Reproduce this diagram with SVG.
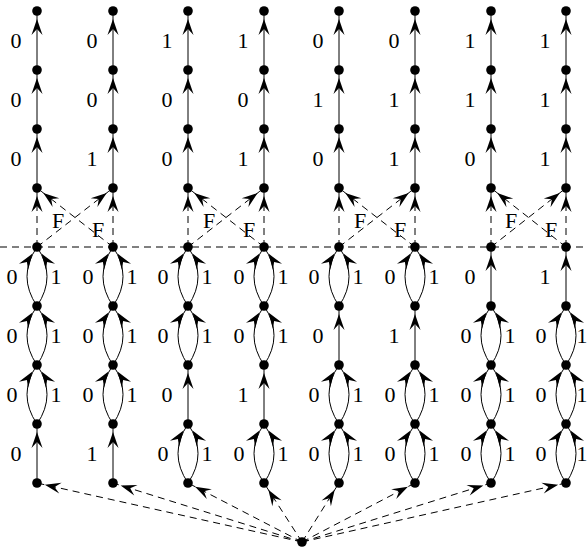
<svg xmlns="http://www.w3.org/2000/svg" width="588" height="552" viewBox="0 0 588 552">
<style>
.e{stroke:#000;stroke-width:1;fill:none;marker-end:url(#ah)}
.d{stroke-dasharray:7 5}
.h{stroke:#000;stroke-width:1;fill:none;stroke-dasharray:7 5}
.n{fill:#000}
text{font-family:"Liberation Serif","Times New Roman",serif;font-size:22px;text-anchor:middle;fill:#000}
</style>
<defs>
<marker id="ah" markerUnits="userSpaceOnUse" orient="auto" refX="0" refY="0" markerWidth="40" markerHeight="20" viewBox="-30 -10 40 20" overflow="visible">
<path d="M-8,0 L-24,-5.5 L-18,0 L-24,5.5 Z" fill="#000"/>
</marker>
</defs>
<rect width="588" height="552" fill="#fff"/>
<g id="connectors">
<path class="h" d="M0,247 H588"/>
<path class="e" d="M37,70V11"/><path class="e" d="M37,129V70"/><path class="e" d="M37,188V129"/>
<path class="e" d="M113,70V11"/><path class="e" d="M113,129V70"/><path class="e" d="M113,188V129"/>
<path class="e" d="M188,70V11"/><path class="e" d="M188,129V70"/><path class="e" d="M188,188V129"/>
<path class="e" d="M264,70V11"/><path class="e" d="M264,129V70"/><path class="e" d="M264,188V129"/>
<path class="e" d="M339,70V11"/><path class="e" d="M339,129V70"/><path class="e" d="M339,188V129"/>
<path class="e" d="M415,70V11"/><path class="e" d="M415,129V70"/><path class="e" d="M415,188V129"/>
<path class="e" d="M491,70V11"/><path class="e" d="M491,129V70"/><path class="e" d="M491,188V129"/>
<path class="e" d="M566,70V11"/><path class="e" d="M566,129V70"/><path class="e" d="M566,188V129"/>
<path class="e d" d="M37,247V188"/><path class="e d" d="M113,247V188"/>
<path class="e d" d="M188,247V188"/><path class="e d" d="M264,247V188"/>
<path class="e d" d="M339,247V188"/><path class="e d" d="M415,247V188"/>
<path class="e d" d="M491,247V188"/><path class="e d" d="M566,247V188"/>
<path class="e d" d="M37,247L113,188"/><path class="e d" d="M113,247L37,188"/>
<path class="e d" d="M188,247L264,188"/><path class="e d" d="M264,247L188,188"/>
<path class="e d" d="M339,247L415,188"/><path class="e d" d="M415,247L339,188"/>
<path class="e d" d="M491,247L566,188"/><path class="e d" d="M566,247L491,188"/>
<path class="e" d="M37,483V424"/>
<path class="e" d="M37,424Q17,394.5 37,365"/><path class="e" d="M37,424Q57,394.5 37,365"/>
<path class="e" d="M37,365Q17,335.5 37,306"/><path class="e" d="M37,365Q57,335.5 37,306"/>
<path class="e" d="M37,306Q17,276.5 37,247"/><path class="e" d="M37,306Q57,276.5 37,247"/>
<path class="e" d="M113,483V424"/>
<path class="e" d="M113,424Q93,394.5 113,365"/><path class="e" d="M113,424Q133,394.5 113,365"/>
<path class="e" d="M113,365Q93,335.5 113,306"/><path class="e" d="M113,365Q133,335.5 113,306"/>
<path class="e" d="M113,306Q93,276.5 113,247"/><path class="e" d="M113,306Q133,276.5 113,247"/>
<path class="e" d="M188,483Q168,453.5 188,424"/><path class="e" d="M188,483Q208,453.5 188,424"/>
<path class="e" d="M188,424V365"/>
<path class="e" d="M188,365Q168,335.5 188,306"/><path class="e" d="M188,365Q208,335.5 188,306"/>
<path class="e" d="M188,306Q168,276.5 188,247"/><path class="e" d="M188,306Q208,276.5 188,247"/>
<path class="e" d="M264,483Q244,453.5 264,424"/><path class="e" d="M264,483Q284,453.5 264,424"/>
<path class="e" d="M264,424V365"/>
<path class="e" d="M264,365Q244,335.5 264,306"/><path class="e" d="M264,365Q284,335.5 264,306"/>
<path class="e" d="M264,306Q244,276.5 264,247"/><path class="e" d="M264,306Q284,276.5 264,247"/>
<path class="e" d="M339,483Q319,453.5 339,424"/><path class="e" d="M339,483Q359,453.5 339,424"/>
<path class="e" d="M339,424Q319,394.5 339,365"/><path class="e" d="M339,424Q359,394.5 339,365"/>
<path class="e" d="M339,365V306"/>
<path class="e" d="M339,306Q319,276.5 339,247"/><path class="e" d="M339,306Q359,276.5 339,247"/>
<path class="e" d="M415,483Q395,453.5 415,424"/><path class="e" d="M415,483Q435,453.5 415,424"/>
<path class="e" d="M415,424Q395,394.5 415,365"/><path class="e" d="M415,424Q435,394.5 415,365"/>
<path class="e" d="M415,365V306"/>
<path class="e" d="M415,306Q395,276.5 415,247"/><path class="e" d="M415,306Q435,276.5 415,247"/>
<path class="e" d="M491,483Q471,453.5 491,424"/><path class="e" d="M491,483Q511,453.5 491,424"/>
<path class="e" d="M491,424Q471,394.5 491,365"/><path class="e" d="M491,424Q511,394.5 491,365"/>
<path class="e" d="M491,365Q471,335.5 491,306"/><path class="e" d="M491,365Q511,335.5 491,306"/>
<path class="e" d="M491,306V247"/>
<path class="e" d="M566,483Q546,453.5 566,424"/><path class="e" d="M566,483Q586,453.5 566,424"/>
<path class="e" d="M566,424Q546,394.5 566,365"/><path class="e" d="M566,424Q586,394.5 566,365"/>
<path class="e" d="M566,365Q546,335.5 566,306"/><path class="e" d="M566,365Q586,335.5 566,306"/>
<path class="e" d="M566,306V247"/>
<path class="e d" d="M302,542L37,483"/><path class="e d" d="M302,542L113,483"/>
<path class="e d" d="M302,542L188,483"/><path class="e d" d="M302,542L264,483"/>
<path class="e d" d="M302,542L339,483"/><path class="e d" d="M302,542L415,483"/>
<path class="e d" d="M302,542L491,483"/><path class="e d" d="M302,542L566,483"/>
</g>
<g id="labels">
<text x="16" y="48">0</text><text x="16" y="107">0</text><text x="16" y="166">0</text>
<text x="92" y="48">0</text><text x="92" y="107">0</text><text x="92" y="166">1</text>
<text x="167" y="48">1</text><text x="167" y="107">0</text><text x="167" y="166">0</text>
<text x="243" y="48">1</text><text x="243" y="107">0</text><text x="243" y="166">1</text>
<text x="318" y="48">0</text><text x="318" y="107">1</text><text x="318" y="166">0</text>
<text x="394" y="48">0</text><text x="394" y="107">1</text><text x="394" y="166">1</text>
<text x="470" y="48">1</text><text x="470" y="107">1</text><text x="470" y="166">0</text>
<text x="545" y="48">1</text><text x="545" y="107">1</text><text x="545" y="166">1</text>
<text x="58" y="228">F</text><text x="98" y="237">F</text>
<text x="209" y="228">F</text><text x="249" y="237">F</text>
<text x="360" y="228">F</text><text x="400" y="237">F</text>
<text x="511" y="228">F</text><text x="551" y="237">F</text>
<text x="16" y="461">0</text>
<text x="12" y="402">0</text><text x="56" y="402">1</text>
<text x="12" y="343">0</text><text x="56" y="343">1</text>
<text x="12" y="284">0</text><text x="56" y="284">1</text>
<text x="92" y="461">1</text>
<text x="88" y="402">0</text><text x="132" y="402">1</text>
<text x="88" y="343">0</text><text x="132" y="343">1</text>
<text x="88" y="284">0</text><text x="132" y="284">1</text>
<text x="163" y="461">0</text><text x="207" y="461">1</text>
<text x="167" y="402">0</text>
<text x="163" y="343">0</text><text x="207" y="343">1</text>
<text x="163" y="284">0</text><text x="207" y="284">1</text>
<text x="239" y="461">0</text><text x="283" y="461">1</text>
<text x="243" y="402">1</text>
<text x="239" y="343">0</text><text x="283" y="343">1</text>
<text x="239" y="284">0</text><text x="283" y="284">1</text>
<text x="314" y="461">0</text><text x="358" y="461">1</text>
<text x="314" y="402">0</text><text x="358" y="402">1</text>
<text x="318" y="343">0</text>
<text x="314" y="284">0</text><text x="358" y="284">1</text>
<text x="390" y="461">0</text><text x="434" y="461">1</text>
<text x="390" y="402">0</text><text x="434" y="402">1</text>
<text x="394" y="343">1</text>
<text x="390" y="284">0</text><text x="434" y="284">1</text>
<text x="466" y="461">0</text><text x="510" y="461">1</text>
<text x="466" y="402">0</text><text x="510" y="402">1</text>
<text x="466" y="343">0</text><text x="510" y="343">1</text>
<text x="470" y="284">0</text>
<text x="541" y="461">0</text><text x="582" y="461">1</text>
<text x="541" y="402">0</text><text x="582" y="402">1</text>
<text x="541" y="343">0</text><text x="582" y="343">1</text>
<text x="545" y="284">1</text>
</g>
<g id="nodes">
<g id="c1r0"><circle class="n" cx="37" cy="11" r="4.8"/></g><g id="c1r1"><circle class="n" cx="37" cy="70" r="4.8"/></g><g id="c1r2"><circle class="n" cx="37" cy="129" r="4.8"/></g><g id="c1r3"><circle class="n" cx="37" cy="188" r="4.8"/></g><g id="c1r4"><circle class="n" cx="37" cy="247" r="4.8"/></g><g id="c1r5"><circle class="n" cx="37" cy="306" r="4.8"/></g><g id="c1r6"><circle class="n" cx="37" cy="365" r="4.8"/></g><g id="c1r7"><circle class="n" cx="37" cy="424" r="4.8"/></g><g id="c1r8"><circle class="n" cx="37" cy="483" r="4.8"/></g>
<g id="c2r0"><circle class="n" cx="113" cy="11" r="4.8"/></g><g id="c2r1"><circle class="n" cx="113" cy="70" r="4.8"/></g><g id="c2r2"><circle class="n" cx="113" cy="129" r="4.8"/></g><g id="c2r3"><circle class="n" cx="113" cy="188" r="4.8"/></g><g id="c2r4"><circle class="n" cx="113" cy="247" r="4.8"/></g><g id="c2r5"><circle class="n" cx="113" cy="306" r="4.8"/></g><g id="c2r6"><circle class="n" cx="113" cy="365" r="4.8"/></g><g id="c2r7"><circle class="n" cx="113" cy="424" r="4.8"/></g><g id="c2r8"><circle class="n" cx="113" cy="483" r="4.8"/></g>
<g id="c3r0"><circle class="n" cx="188" cy="11" r="4.8"/></g><g id="c3r1"><circle class="n" cx="188" cy="70" r="4.8"/></g><g id="c3r2"><circle class="n" cx="188" cy="129" r="4.8"/></g><g id="c3r3"><circle class="n" cx="188" cy="188" r="4.8"/></g><g id="c3r4"><circle class="n" cx="188" cy="247" r="4.8"/></g><g id="c3r5"><circle class="n" cx="188" cy="306" r="4.8"/></g><g id="c3r6"><circle class="n" cx="188" cy="365" r="4.8"/></g><g id="c3r7"><circle class="n" cx="188" cy="424" r="4.8"/></g><g id="c3r8"><circle class="n" cx="188" cy="483" r="4.8"/></g>
<g id="c4r0"><circle class="n" cx="264" cy="11" r="4.8"/></g><g id="c4r1"><circle class="n" cx="264" cy="70" r="4.8"/></g><g id="c4r2"><circle class="n" cx="264" cy="129" r="4.8"/></g><g id="c4r3"><circle class="n" cx="264" cy="188" r="4.8"/></g><g id="c4r4"><circle class="n" cx="264" cy="247" r="4.8"/></g><g id="c4r5"><circle class="n" cx="264" cy="306" r="4.8"/></g><g id="c4r6"><circle class="n" cx="264" cy="365" r="4.8"/></g><g id="c4r7"><circle class="n" cx="264" cy="424" r="4.8"/></g><g id="c4r8"><circle class="n" cx="264" cy="483" r="4.8"/></g>
<g id="c5r0"><circle class="n" cx="339" cy="11" r="4.8"/></g><g id="c5r1"><circle class="n" cx="339" cy="70" r="4.8"/></g><g id="c5r2"><circle class="n" cx="339" cy="129" r="4.8"/></g><g id="c5r3"><circle class="n" cx="339" cy="188" r="4.8"/></g><g id="c5r4"><circle class="n" cx="339" cy="247" r="4.8"/></g><g id="c5r5"><circle class="n" cx="339" cy="306" r="4.8"/></g><g id="c5r6"><circle class="n" cx="339" cy="365" r="4.8"/></g><g id="c5r7"><circle class="n" cx="339" cy="424" r="4.8"/></g><g id="c5r8"><circle class="n" cx="339" cy="483" r="4.8"/></g>
<g id="c6r0"><circle class="n" cx="415" cy="11" r="4.8"/></g><g id="c6r1"><circle class="n" cx="415" cy="70" r="4.8"/></g><g id="c6r2"><circle class="n" cx="415" cy="129" r="4.8"/></g><g id="c6r3"><circle class="n" cx="415" cy="188" r="4.8"/></g><g id="c6r4"><circle class="n" cx="415" cy="247" r="4.8"/></g><g id="c6r5"><circle class="n" cx="415" cy="306" r="4.8"/></g><g id="c6r6"><circle class="n" cx="415" cy="365" r="4.8"/></g><g id="c6r7"><circle class="n" cx="415" cy="424" r="4.8"/></g><g id="c6r8"><circle class="n" cx="415" cy="483" r="4.8"/></g>
<g id="c7r0"><circle class="n" cx="491" cy="11" r="4.8"/></g><g id="c7r1"><circle class="n" cx="491" cy="70" r="4.8"/></g><g id="c7r2"><circle class="n" cx="491" cy="129" r="4.8"/></g><g id="c7r3"><circle class="n" cx="491" cy="188" r="4.8"/></g><g id="c7r4"><circle class="n" cx="491" cy="247" r="4.8"/></g><g id="c7r5"><circle class="n" cx="491" cy="306" r="4.8"/></g><g id="c7r6"><circle class="n" cx="491" cy="365" r="4.8"/></g><g id="c7r7"><circle class="n" cx="491" cy="424" r="4.8"/></g><g id="c7r8"><circle class="n" cx="491" cy="483" r="4.8"/></g>
<g id="c8r0"><circle class="n" cx="566" cy="11" r="4.8"/></g><g id="c8r1"><circle class="n" cx="566" cy="70" r="4.8"/></g><g id="c8r2"><circle class="n" cx="566" cy="129" r="4.8"/></g><g id="c8r3"><circle class="n" cx="566" cy="188" r="4.8"/></g><g id="c8r4"><circle class="n" cx="566" cy="247" r="4.8"/></g><g id="c8r5"><circle class="n" cx="566" cy="306" r="4.8"/></g><g id="c8r6"><circle class="n" cx="566" cy="365" r="4.8"/></g><g id="c8r7"><circle class="n" cx="566" cy="424" r="4.8"/></g><g id="c8r8"><circle class="n" cx="566" cy="483" r="4.8"/></g>
<g id="root"><circle class="n" cx="302" cy="542" r="4.8"/></g>
</g>
</svg>
